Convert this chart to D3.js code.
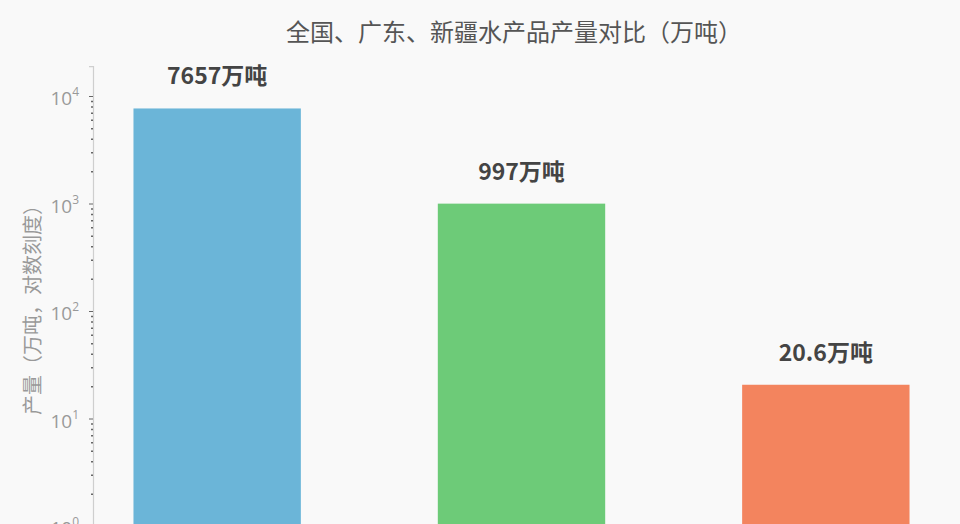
<!DOCTYPE html>
<html lang="zh">
    <head>
        <meta charset="utf-8">
        <title>全国、广东、新疆水产品产量对比</title>
        <script src="https://cdn.jsdelivr.net/npm/d3@7/dist/d3.min.js" charset="utf-8"></script>
        <style type="text/css">
            html, body {
                margin: 0;
                padding: 0;
                background-color: #f9f9f9;
                overflow: hidden;
            }
            #chart {
                width: 960px;
                height: 524px;
            }
            text {
                font-family: "Noto Sans CJK SC", "Noto Sans", sans-serif;
            }
        </style>
    </head>
    <body>
        <div id="chart"></div>
        <script>
            // Datos
            var regions = ["全国", "广东", "新疆"];
            var output = [7657, 997, 20.6];
            var valueLabels = ["7657万吨", "997万吨", "20.6万吨"];
            var barColors = ["#6bb5d8", "#6dcb78", "#f3845e"];
            var majorTicks = [1, 10, 100, 1000, 10000];
            var tickExponents = ["0", "1", "2", "3", "4"];

            var width = 960,
                height = 524;

            var svg = d3.select("#chart").append("svg")
                .attr("width", width)
                .attr("height", height);

            // Eje y (log) - la parte baja queda recortada como en la imagen
            var decade = 107.5,
                yTop = 96,           // posicion de 10^4
                yMin = 0.6,
                yMax = 19000;
            var y = d3.scaleLog()
                .domain([yMin, yMax])
                .range([yTop + (4 - Math.log10(yMin)) * decade,
                        yTop - (Math.log10(yMax) - 4) * decade]);

            // Eje x
            var x = d3.scaleBand()
                .domain(regions)
                .range([93, 950])
                .paddingInner(0.45)
                .paddingOuter(0.133);

            // Titulo
            svg.append("text")
                .attr("x", 514)
                .attr("y", 41)
                .attr("text-anchor", "middle")
                .attr("fill", "#555")
                .style("font-size", "24px")
                .text("全国、广东、新疆水产品产量对比（万吨）");

            // Barras
            svg.selectAll(".bar")
                .data(output)
                .enter().append("rect")
                .attr("class", "bar")
                .attr("x", function(d, i) { return x(regions[i]); })
                .attr("width", x.bandwidth())
                .attr("y", function(d) { return y(d); })
                .attr("height", function(d) { return y(yMin) - y(d); })
                .attr("fill", function(d, i) { return barColors[i]; });

            // Etiquetas de valor
            svg.selectAll(".vlabel")
                .data(output)
                .enter().append("text")
                .attr("class", "vlabel")
                .attr("x", function(d, i) { return x(regions[i]) + x.bandwidth() / 2; })
                .attr("y", function(d) { return y(d) - 24; })
                .attr("text-anchor", "middle")
                .attr("fill", "#444")
                .style("font-size", "23px")
                .style("font-weight", "bold")
                .text(function(d, i) { return valueLabels[i]; });

            // Eje y: linea + ticks menores
            var minorTicks = [];
            majorTicks.forEach(function(m) {
                for (var k = 2; k <= 9; k++) {
                    if (m * k <= yMax) minorTicks.push(m * k);
                }
            });

            var yAxis = d3.axisLeft(y)
                .tickValues(majorTicks)
                .tickSize(4)
                .tickFormat("");

            var gy = svg.append("g")
                .attr("transform", "translate(93,0)")
                .call(yAxis);
            gy.select(".domain").attr("stroke", "#cfcfcf").attr("stroke-width", 1.2);
            gy.selectAll(".tick line").attr("stroke", "#666");

            var gMinor = svg.append("g")
                .attr("transform", "translate(93,0)")
                .call(d3.axisLeft(y).tickValues(minorTicks).tickSize(2).tickFormat(""));
            gMinor.select(".domain").remove();
            gMinor.selectAll(".tick line").attr("stroke", "#666").attr("stroke-width", 1.5);

            // Etiquetas 10^n
            var lab = svg.append("g").selectAll(".ylab")
                .data(majorTicks)
                .enter().append("text")
                .attr("class", "ylab")
                .attr("x", 79)
                .attr("y", function(d) { return y(d) + 9; })
                .attr("text-anchor", "end")
                .attr("fill", "#999")
                .style("font-family", "'Open Sans', sans-serif")
                .style("font-size", "19px");
            lab.append("tspan").text("10");
            lab.append("tspan")
                .attr("dy", -9)
                .style("font-size", "12px")
                .text(function(d, i) { return tickExponents[i]; });

            // Titulo eje y
            svg.append("text")
                .attr("transform", "translate(40,305) rotate(-90)")
                .attr("text-anchor", "middle")
                .attr("fill", "#999")
                .style("font-size", "20px")
                .text("产量（万吨，对数刻度）");
        </script>
    </body>
</html>
